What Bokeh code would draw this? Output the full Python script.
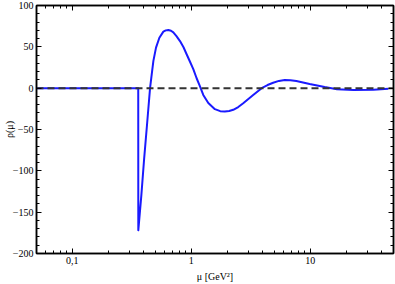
from bokeh.plotting import figure
from bokeh.models import (LogAxis, LinearAxis, FixedTicker, Range1d, ColumnDataSource)
from bokeh.embed import file_html
from bokeh.resources import INLINE

# data
mu = [0.05, 0.358, 0.3585, 0.380, 0.401, 0.425, 0.450, 0.465, 0.480, 0.505, 0.539,
      0.582, 0.61, 0.641, 0.675, 0.706, 0.75, 0.803, 0.86, 0.913, 0.975, 1.039,
      1.108, 1.18, 1.26, 1.389, 1.578, 1.75, 1.912, 2.08, 2.25, 2.48, 2.73, 3.31,
      3.9, 4.37, 4.87, 5.45, 6.09, 6.8, 7.63, 9.87, 13.2, 16.74, 23.07, 33.9, 45.3]
rho = [0, 0, -172, -130, -86, -43, 0, 17, 33, 49, 61,
       68.4, 69.9, 70.3, 69.4, 67.5, 63, 57, 49.5, 41, 32, 23,
       12, 2.5, -8.2, -18, -25.4, -27.8, -28.2, -27.6, -26.2, -22.8, -18.2, -8.2,
       0, 3.8, 6.6, 8.8, 9.9, 9.6, 8.6, 5, 1.4, -1.2, -2.2, -1.8, -0.8]
zero_mu = [0.05, 50]
zero_rho = [0, 0]

x_major = [0.1, 1, 10]
x_labels = {0.1: "0,1", 1: "1", 10: "10"}
x_minor = [0.05, 0.06, 0.07, 0.08, 0.09, 0.2, 0.3, 0.4, 0.5, 0.6, 0.7, 0.8, 0.9,
           2, 3, 4, 5, 6, 7, 8, 9, 20, 30, 40, 50]
y_major = [-200, -150, -100, -50, 0, 50, 100]
y_minor = list(range(-200, 101, 10))

FONT = "Liberation Serif"
FS = "10px"

p = figure(width=395, height=284, x_axis_type="log",
           x_range=Range1d(0.05, 50), y_range=Range1d(-200, 100),
           output_backend="svg", toolbar_location=None,
           min_border_left=36, min_border_right=2, min_border_top=5,
           min_border_bottom=29, x_axis_label="μ [GeV²]", y_axis_label="ρ(μ)")
p.grid.visible = False
p.outline_line_color = "black"
p.outline_line_width = 1.5

src = ColumnDataSource(dict(mu=mu, rho=rho))
p.line("mu", "rho", source=src, line_color="#1a1aff", line_width=2,
       line_join="round")
p.line(zero_mu, zero_rho, line_color="#333333", line_width=2, line_dash="7 4")

def style(ax, labels=True):
    ax.major_tick_in = 5
    ax.major_tick_out = 0
    ax.minor_tick_in = 3
    ax.minor_tick_out = 0
    ax.axis_line_color = "black"
    ax.axis_line_width = 1.5
    ax.major_tick_line_color = "black"
    ax.minor_tick_line_color = "black"
    ax.major_label_text_font = FONT
    ax.major_label_text_font_size = FS if labels else "1px"
    ax.major_label_text_color = "black" if labels else None
    ax.major_label_standoff = 3 if labels else 0
    ax.axis_label_text_font = FONT
    ax.axis_label_text_font_size = FS
    ax.axis_label_text_font_style = "normal"
    ax.axis_label_text_color = "black"
    ax.axis_label_standoff = 2

p.xaxis.ticker = FixedTicker(ticks=x_major, minor_ticks=x_minor)
p.yaxis.ticker = FixedTicker(ticks=y_major, minor_ticks=y_minor)
p.xaxis.major_label_overrides = x_labels
style(p.xaxis[0])
style(p.yaxis[0])
p.xaxis[0].axis_label_standoff = 4
p.yaxis[0].major_label_standoff = 3
p.yaxis[0].axis_label_standoff = -5

top = LogAxis(ticker=FixedTicker(ticks=x_major, minor_ticks=x_minor))
style(top, labels=False)
p.add_layout(top, "above")
right = LinearAxis(ticker=FixedTicker(ticks=y_major, minor_ticks=y_minor))
style(right, labels=False)
p.add_layout(right, "right")

open("out.html", "w").write(file_html(p, INLINE))
